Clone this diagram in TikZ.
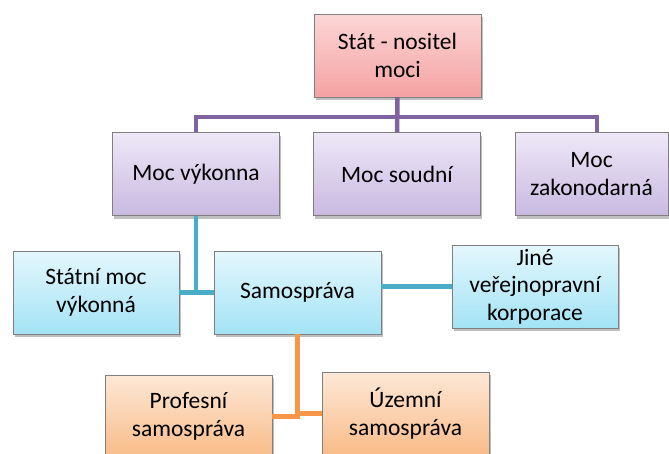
\documentclass[tikz,border=0pt]{standalone}
\usepackage{fontspec}
\setmainfont{Carlito}
\usetikzlibrary{shadows}
\definecolor{pinkT}{HTML}{FCD6D6}
\definecolor{pinkB}{HTML}{F5A2A2}
\definecolor{purT}{HTML}{EEE8F7}
\definecolor{purB}{HTML}{C9B9E1}
\definecolor{bluT}{HTML}{E4F7FD}
\definecolor{bluB}{HTML}{A3E3F5}
\definecolor{oraT}{HTML}{FDE8D6}
\definecolor{oraB}{HTML}{F9BB88}
\definecolor{bord}{HTML}{7F7F7F}
\definecolor{purLine}{HTML}{8064A2}
\definecolor{tealLine}{HTML}{4BACC6}
\definecolor{oraLine}{HTML}{F79646}
\tikzset{
  box/.style={draw=bord, line width=0.8pt, rectangle, inner sep=0pt,
    minimum width=167pt, minimum height=83pt, align=center,
    font=\fontsize{23.5}{27.5}\selectfont, text=black,
    drop shadow={shadow xshift=1.5pt, shadow yshift=-3pt, opacity=0.25, fill=black}},
  pinkbox/.style={box, top color=pinkT, bottom color=pinkB},
  purbox/.style={box, top color=purT, bottom color=purB},
  blubox/.style={box, top color=bluT, bottom color=bluB},
  orabox/.style={box, top color=oraT, bottom color=oraB},
  conn/.style={line width=4.5pt, line join=miter},
}
\begin{document}
\begin{tikzpicture}[x=1pt, y=-1pt]
\useasboundingbox (0,0) rectangle (669,453);
\coordinate (pj) at (397.5,117);
\coordinate (zt) at (597,132);
\node[pinkbox] (stat) at (397.5,55.5) {Stát - nositel\\moci};
\node[purbox] (vyk) at (196,174) {Moc výkonna};
\node[purbox] (soud) at (397,174) {Moc soudní};
\node[purbox, minimum width=153pt] (zak) at (591.5,174) {Moc\\zakonodarná};
\node[blubox, minimum width=166pt] (stm) at (96,292.5) {Státní moc\\výkonná};
\node[blubox] (sam) at (297.5,292.5) {Samospráva};
\node[blubox, minimum width=166pt] (jine) at (535,286.5) {Jiné\\veřejnopravní\\korporace};
\node[orabox] (prof) at (188.5,416.5) {Profesní\\samospráva};
\node[orabox] (uz) at (405.5,413.5) {Územní\\samospráva};
% purple
\draw[conn, purLine] (stat.south) -- (soud.north);
\draw[conn, purLine] (vyk.north) |- (pj) -| (zt);
% teal
\draw[conn, tealLine] (vyk.south) -- (vyk.south |- sam.west);
\draw[conn, tealLine] (stm.east) -- (sam.west);
\draw[conn, tealLine] (jine.west) -- (jine.west -| sam.east);
% orange
\draw[conn, oraLine] (sam.south) |- (prof.east);
\draw[conn, oraLine] (sam.south |- uz.west) -- (uz.west);
\end{tikzpicture}
\end{document}
